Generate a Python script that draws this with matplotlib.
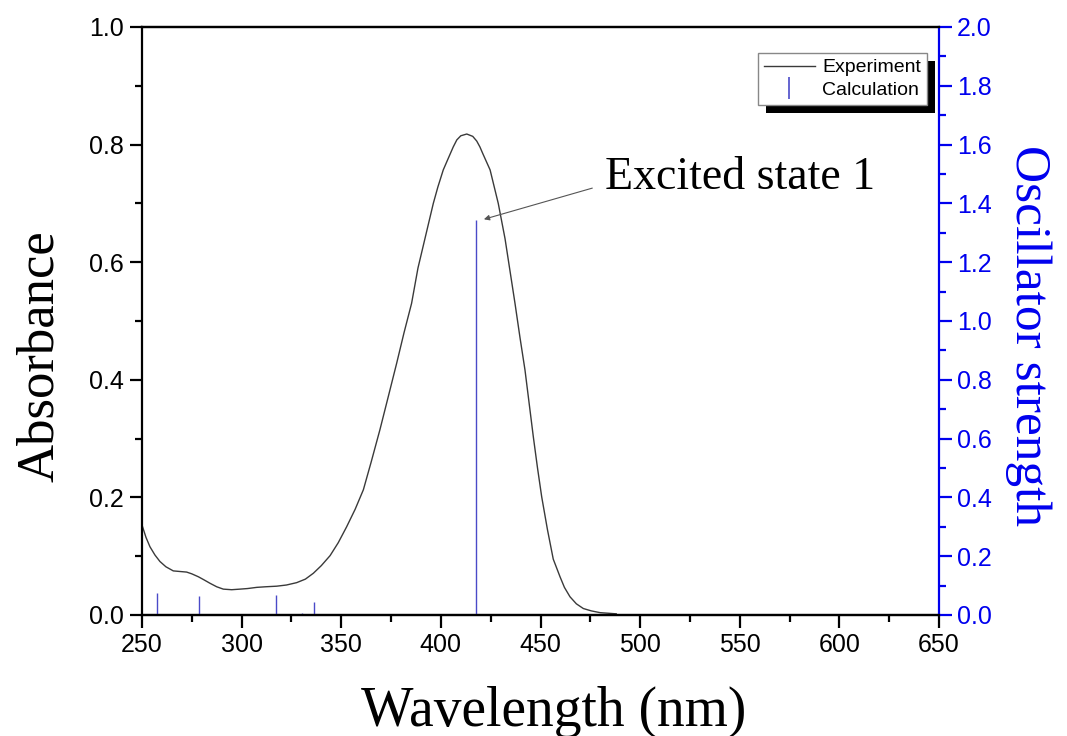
import matplotlib
matplotlib.use("Agg")
import matplotlib.pyplot as plt
from matplotlib.lines import Line2D
from matplotlib.patches import Rectangle
from matplotlib.ticker import MultipleLocator

# ---- data ----
wl_exp = [250, 252, 254, 256.5, 259, 262, 265.7, 269, 272.4, 275, 278.3, 281, 284.1,
          287.5, 290.8, 295, 299.2, 303, 307.6, 312, 317.6, 322.5, 327.6, 332, 336,
          340, 344.4, 348.5, 352.7, 357, 361.1, 365, 369.4, 373.5, 377.8, 381.5,
          385.3, 388.5, 392, 396.2, 398.5, 401.2, 403.5, 406.2, 408, 410, 413, 416,
          418, 419.6, 421, 424.7, 428.8, 432.2, 434.7, 437.2, 439.7, 442.2, 444.3,
          446.4, 448.5, 450.6, 453.5, 456.4, 459.8, 462, 464.8, 468, 471.5, 475.5,
          479.9, 488]
abs_exp = [0.153, 0.132, 0.116, 0.102, 0.091, 0.082, 0.075, 0.074, 0.073, 0.070, 0.065,
           0.060, 0.054, 0.048, 0.044, 0.043, 0.044, 0.045, 0.047, 0.048, 0.049, 0.051,
           0.055, 0.061, 0.071, 0.084, 0.101, 0.123, 0.150, 0.180, 0.213, 0.260, 0.315,
           0.370, 0.428, 0.480, 0.530, 0.590, 0.640, 0.700, 0.728, 0.757, 0.775, 0.796,
           0.808, 0.815, 0.818, 0.814, 0.806, 0.796, 0.785, 0.757, 0.700, 0.640, 0.585,
           0.530, 0.472, 0.417, 0.360, 0.303, 0.250, 0.201, 0.145, 0.095, 0.065, 0.047,
           0.031, 0.019, 0.011, 0.007, 0.004, 0.002]

wl_calc = [257.7, 278.8, 317.4, 330.1, 336.2, 417.6]
osc_calc = [0.076, 0.066, 0.069, 0.008, 0.044, 1.343]

x_ticks = [250, 300, 350, 400, 450, 500, 550, 600, 650]
left_ticks = [0.0, 0.2, 0.4, 0.6, 0.8, 1.0]
right_ticks = [0.0, 0.2, 0.4, 0.6, 0.8, 1.0, 1.2, 1.4, 1.6, 1.8, 2.0]

BLUE = "#0000ee"
STICK = "#4a4ac8"

plt.rcParams['font.family'] = ['Liberation Sans', 'DejaVu Sans']

W, H = 1067, 736
fig = plt.figure(figsize=(W / 100, H / 100), dpi=100)
ax = fig.add_axes([142 / W, (H - 615) / H, (939 - 142) / W, (615 - 27) / H])
ax2 = ax.twinx()

ax.plot(wl_exp, abs_exp, color="#3a3a3a", lw=1.0, label="Experiment")
ax2.vlines(wl_calc, 0, osc_calc, color=STICK, lw=1.0)

ax.set_xlim(250, 650)
ax.set_ylim(0, 1.0)
ax2.set_ylim(0, 2.0)
ax.set_xticks(x_ticks)
ax.set_yticks(left_ticks)
ax2.set_yticks(right_ticks)
ax.xaxis.set_minor_locator(MultipleLocator(25))
ax.yaxis.set_minor_locator(MultipleLocator(0.1))
ax2.yaxis.set_minor_locator(MultipleLocator(0.1))
ax.set_yticklabels([f"{v:.1f}" for v in left_ticks])
ax2.set_yticklabels([f"{v:.1f}" for v in right_ticks])

for a in (ax, ax2):
    for s in a.spines.values():
        s.set_linewidth(1.6)
ax.spines['right'].set_visible(False)
ax2.spines['left'].set_visible(False)
ax2.spines['right'].set_color(BLUE)

ax.tick_params(axis='both', which='major', direction='out', length=9, width=1.6,
               labelsize=18, pad=4)
ax.tick_params(axis='both', which='minor', direction='out', length=5, width=1.6)
ax2.tick_params(axis='y', which='major', direction='out', length=9, width=1.6,
                labelsize=18, pad=4, color=BLUE, labelcolor=BLUE)
ax2.tick_params(axis='y', which='minor', direction='out', length=5, width=1.6, color=BLUE)

serif = ['Liberation Serif', 'DejaVu Serif']
ax.set_xlabel("Wavelength (nm)", fontsize=40, family=serif)
ax.set_ylabel("Absorbance", fontsize=38, family=serif)
ax2.set_ylabel("Oscillator strength", fontsize=37, family=serif, color=BLUE,
               rotation=270, va='bottom')
ax.xaxis.set_label_coords(0.516, -0.12)
ax.yaxis.set_label_coords(-0.098, 0.44)
ax2.yaxis.set_label_coords(1.083, 0.476)

# annotation
ax2.annotate("", xy=(421.6, 1.346), xytext=(476, 1.452),
             arrowprops=dict(arrowstyle='-|>', color='#555555', lw=0.8,
                             mutation_scale=8, shrinkA=0, shrinkB=0))
ax2.text(482.6, 1.486, "Excited state 1", fontsize=33, family=serif,
         ha='left', va='center')

# legend
handles = [Line2D([], [], color="#3a3a3a", lw=1.0),
           Line2D([], [], color=STICK, lw=0, marker='|', markersize=16,
                  markeredgewidth=1.2)]
leg = ax2.legend(handles, ["Experiment", "Calculation"], loc='upper right',
                 bbox_to_anchor=(927 / W, (H - 53) / H), bbox_transform=fig.transFigure,
                 fontsize=14, frameon=True, fancybox=False, framealpha=1,
                 edgecolor='#888888', borderpad=0.3, labelspacing=0.25,
                 handlelength=2.6, handletextpad=0.4, borderaxespad=0)
leg.get_frame().set_linewidth(1.0)
leg.set_zorder(6)

fig.canvas.draw()
bb = leg.get_window_extent()
shadow = Rectangle((bb.x0 + 8, bb.y0 - 8), bb.width, bb.height, transform=None,
                   facecolor='black', edgecolor='none', zorder=5.5, clip_on=False)
ax2.add_artist(shadow)

fig.savefig("out.png", dpi=100)
